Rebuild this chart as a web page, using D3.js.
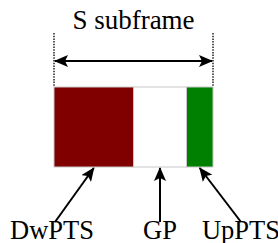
<!DOCTYPE html>
<html>
<head>
<meta charset="utf-8">
<script src="https://cdn.jsdelivr.net/npm/d3@7"></script>
<style>
  body { margin: 0; background: #fff; }
  svg text { font-family: "Liberation Serif", "DejaVu Serif", "Times New Roman", Times, serif; }
</style>
</head>
<body>
<div id="chart"></div>
<script>
// segments of the special subframe (relative lengths)
var segNames = ["DwPTS", "GP", "UpPTS"];
var segLengths = [3, 2, 1];
var segColors = ["#800000", "#ffffff", "#008000"];
var labelX = [52, 160, 241];
var title = "S subframe";

var svgWidth = 278, svgHeight = 243;

var svg = d3.select("#chart")
    .append("svg")
    .attr("width", svgWidth)
    .attr("height", svgHeight);

var defs = svg.append("defs");
defs.append("marker")
    .attr("id", "head")
    .attr("viewBox", "0 0 14 12")
    .attr("refX", 13)
    .attr("refY", 6)
    .attr("markerWidth", 14)
    .attr("markerHeight", 12)
    .attr("markerUnits", "userSpaceOnUse")
    .attr("orient", "auto-start-reverse")
    .append("path")
    .attr("d", "M0,0 L14,6 L0,12 L3,6 Z")
    .attr("fill", "#000");

// cumulative starts
var starts = [];
var acc = 0;
segLengths.forEach(function (d) { starts.push(acc); acc += d; });
var total = acc;

var x = d3.scaleLinear().domain([0, total]).range([54, 213]);
var yTop = 87, yBot = 167;

// dotted boundary lines
[0, total].forEach(function (v) {
    svg.append("line")
        .attr("x1", x(v)).attr("x2", x(v))
        .attr("y1", 33).attr("y2", yTop)
        .attr("stroke", "#000")
        .attr("stroke-width", 1.3)
        .attr("stroke-dasharray", "1.5,1.2");
});

// double arrow
svg.append("line")
    .attr("x1", x(0) + 1).attr("x2", x(total) - 1)
    .attr("y1", 61).attr("y2", 61)
    .attr("stroke", "#000")
    .attr("stroke-width", 2)
    .attr("marker-start", "url(#head)")
    .attr("marker-end", "url(#head)");

svg.append("text")
    .attr("x", (x(0) + x(total)) / 2)
    .attr("y", 29)
    .attr("text-anchor", "middle")
    .style("font-size", "27px")
    .text(title);

// segments
svg.selectAll("rect.seg")
    .data(segLengths)
    .enter()
    .append("rect")
    .attr("class", "seg")
    .attr("x", (d, i) => x(starts[i]))
    .attr("y", yTop)
    .attr("width", d => x(d) - x(0))
    .attr("height", yBot - yTop)
    .attr("fill", (d, i) => segColors[i])
    .attr("stroke", "#c8c8c8")
    .attr("stroke-width", 1);

// pointer arrows from labels
svg.selectAll("line.ptr")
    .data(segLengths)
    .enter()
    .append("line")
    .attr("class", "ptr")
    .attr("x1", (d, i) => labelX[i] + (i === 0 ? 3 : 0))
    .attr("y1", 222)
    .attr("x2", (d, i) => x(starts[i] + d / 2))
    .attr("y2", yBot + 1)
    .attr("stroke", "#000")
    .attr("stroke-width", 2)
    .attr("marker-end", "url(#head)");

svg.selectAll("text.lbl")
    .data(segNames)
    .enter()
    .append("text")
    .attr("class", "lbl")
    .attr("x", (d, i) => labelX[i])
    .attr("y", 239)
    .attr("text-anchor", "middle")
    .style("font-size", "26.5px")
    .text(d => d);
</script>
</body>
</html>
